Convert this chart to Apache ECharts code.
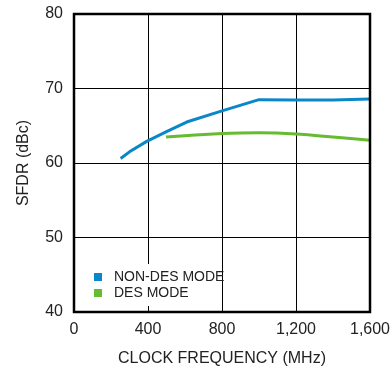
<!DOCTYPE html>
<html>
<head>
<meta charset="utf-8">
<script src="https://cdn.jsdelivr.net/npm/echarts@6/dist/echarts.min.js"></script>
<style>
  html, body { margin: 0; padding: 0; background: #fff; }
  #chart { width: 391px; height: 366px; }
</style>
</head>
<body>
<div id="chart"></div>
<script>
// values: [clock MHz, SFDR dBc]
var nonDesData = [[252, 60.6], [300, 61.5], [393, 62.9], [500, 64.2], [609, 65.5], [800, 67.0], [1000, 68.5], [1200, 68.45], [1400, 68.45], [1600, 68.6]];
var desData = [[497, 63.5], [800, 63.95], [1000, 64.05], [1200, 63.9], [1400, 63.5], [1600, 63.05]];
var seriesNames = ['NON-DES MODE', 'DES MODE'];
var xTicks = [0, 400, 800, 1200, 1600];
var yTicks = [40, 50, 60, 70, 80];

var chart = echarts.init(document.getElementById('chart'));
var font = 'Liberation Sans, Arial, sans-serif';

var option = {
  backgroundColor: '#ffffff',
  animation: false,
  grid: {
    left: 74, right: 21, top: 14, bottom: 54,
    outerBoundsMode: 'none', containLabel: false,
    show: true, borderColor: '#000', borderWidth: 2.5, z: 3
  },
  // white patch behind the legend (hides the 400 gridline there)
  graphic: [{
    type: 'rect', left: 90, top: 264, z: 1,
    shape: { width: 122, height: 42 },
    style: { fill: '#fff' }
  }],
  legend: {
    data: seriesNames,
    orient: 'vertical',
    left: 89, top: 265,
    itemWidth: 8, itemHeight: 8, itemGap: 2,
    icon: 'rect',
    textStyle: { fontFamily: font, fontSize: 14, color: '#222', padding: [0, 0, 0, 7] }
  },
  xAxis: {
    type: 'value', min: 0, max: 1600, interval: 400,
    name: 'CLOCK FREQUENCY (MHz)', nameLocation: 'middle', nameGap: 39,
    nameTextStyle: { fontFamily: font, fontSize: 16, color: '#222' },
    axisLine: { show: false },
    axisTick: { show: false },
    axisLabel: {
      fontFamily: font, fontSize: 16, color: '#222', margin: 10,
      formatter: function(v) {
        return xTicks.indexOf(v) >= 0 ? v.toLocaleString('en-US') : '';
      }
    },
    splitLine: { show: true, lineStyle: { color: '#000', width: 1 } }
  },
  yAxis: {
    type: 'value', min: 40, max: 80, interval: 10,
    name: 'SFDR (dBc)', nameLocation: 'middle', nameGap: 42,
    nameTextStyle: { fontFamily: font, fontSize: 16, color: '#222' },
    axisLine: { show: false },
    axisTick: { show: false },
    axisLabel: {
      fontFamily: font, fontSize: 16, color: '#222', margin: 11,
      formatter: function(v) { return yTicks.indexOf(v) >= 0 ? String(v) : ''; }
    },
    splitLine: { show: true, lineStyle: { color: '#000', width: 1 } }
  },
  series: [{
    name: seriesNames[0], type: 'line', data: nonDesData,
    showSymbol: false, smooth: false, z: 2,
    color: '#0a87c8',
    lineStyle: { width: 3, color: '#0a87c8' }
  }, {
    name: seriesNames[1], type: 'line', data: desData,
    showSymbol: false, smooth: 0.2, z: 2,
    color: '#66bb33',
    lineStyle: { width: 3, color: '#66bb33' }
  }]
};
chart.setOption(option);
</script>
</body>
</html>
